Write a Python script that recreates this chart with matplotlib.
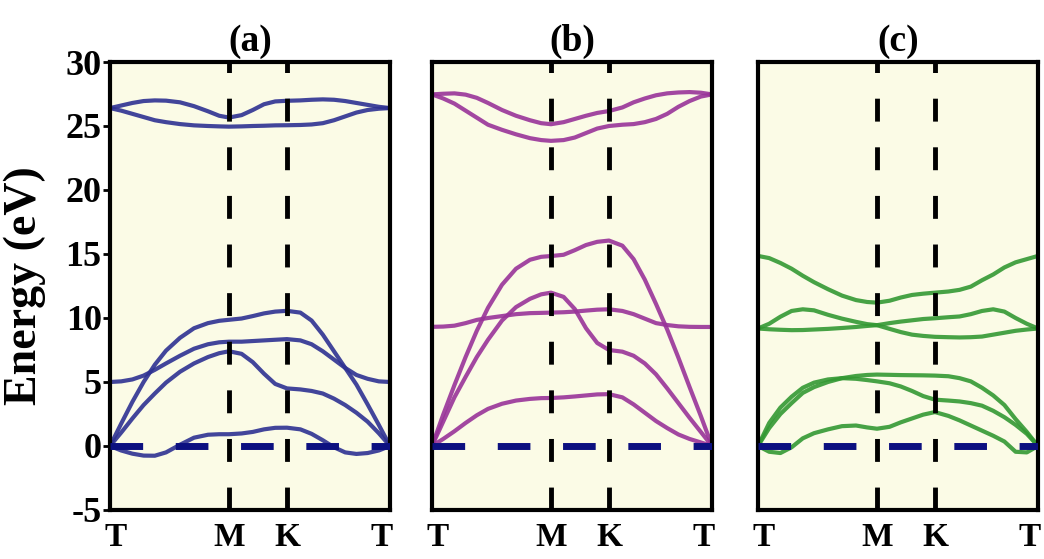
import numpy as np
import matplotlib.pyplot as plt

plt.rcParams['font.family'] = ['Liberation Serif', 'DejaVu Serif']
plt.rcParams['font.weight'] = 'bold'
plt.rcParams['axes.titleweight'] = 'bold'
plt.rcParams['axes.labelweight'] = 'bold'
plt.rcParams['axes.unicode_minus'] = False
plt.rcParams['lines.scale_dashes'] = False

# positions of the high-symmetry points along the path
k_M, k_K = 0.425, 0.632
k = [0, 0.04, 0.08, 0.12, 0.16, 0.2, 0.25, 0.3, 0.35, 0.39, k_M, 0.47, 0.51,
     0.55, 0.59, k_K, 0.68, 0.72, 0.76, 0.8, 0.84, 0.88, 0.92, 0.96, 1.0]
path_ticks = [0.02, k_M, k_K, 0.97]
path_labels = ['T', 'M', 'K', 'T']

# (a) dispersion branches
a_top1 = [26.4, 26.6, 26.8, 26.95, 27.0, 26.98, 26.85, 26.55, 26.15, 25.8, 25.66, 25.85, 26.25,
          26.7, 26.92, 26.97, 27.0, 27.05, 27.08, 27.05, 26.95, 26.8, 26.65, 26.5, 26.4]
a_top2 = [26.4, 26.2, 25.95, 25.7, 25.45, 25.3, 25.15, 25.05, 25.0, 24.97, 24.95, 24.97, 25.0,
          25.02, 25.05, 25.06, 25.08, 25.12, 25.22, 25.45, 25.75, 26.05, 26.25, 26.35, 26.4]
a_b1 = [0, 1.75, 3.45, 5.0, 6.35, 7.45, 8.45, 9.2, 9.6, 9.78, 9.86, 9.96, 10.15,
        10.36, 10.5, 10.56, 10.42, 9.8, 8.7, 7.4, 6.1, 4.8, 3.25, 1.65, 0]
a_b2 = [5.0, 5.05, 5.2, 5.5, 5.95, 6.45, 7.05, 7.6, 7.95, 8.1, 8.15, 8.15, 8.2,
        8.25, 8.3, 8.35, 8.25, 7.95, 7.4, 6.75, 6.1, 5.55, 5.25, 5.05, 5.0]
a_b3 = [0, 1.05, 2.15, 3.2, 4.1, 4.95, 5.8, 6.45, 6.95, 7.25, 7.4, 7.2, 6.55,
        5.65, 4.85, 4.5, 4.42, 4.3, 4.1, 3.7, 3.2, 2.6, 1.9, 1.0, 0]
a_b4 = [0, -0.35, -0.6, -0.75, -0.76, -0.5, 0.1, 0.65, 0.88, 0.92, 0.92, 0.98, 1.1,
        1.3, 1.42, 1.43, 1.3, 0.95, 0.45, -0.1, -0.5, -0.62, -0.55, -0.35, 0]

# (b) dispersion branches
b_top1 = [27.47, 27.52, 27.55, 27.45, 27.2, 26.8, 26.25, 25.8, 25.45, 25.22, 25.14, 25.3, 25.55,
          25.8, 26.02, 26.17, 26.45, 26.85, 27.15, 27.4, 27.55, 27.62, 27.65, 27.6, 27.47]
b_top2 = [27.47, 27.15, 26.75, 26.2, 25.65, 25.1, 24.7, 24.35, 24.05, 23.9, 23.84, 23.9, 24.1,
          24.45, 24.8, 25.0, 25.1, 25.15, 25.3, 25.55, 25.95, 26.5, 26.95, 27.3, 27.47]
b_b1 = [0, 2.45, 4.75, 6.95, 9.0, 10.8, 12.6, 13.85, 14.55, 14.78, 14.84, 14.94, 15.3,
        15.7, 15.95, 16.05, 15.65, 14.6, 13.0, 11.1, 9.1, 6.9, 4.6, 2.35, 0]
b_b2 = [0, 1.9, 3.8, 5.4, 6.95, 8.3, 9.8, 10.85, 11.5, 11.85, 11.98, 11.65, 10.7,
        9.2, 8.05, 7.5, 7.37, 7.05, 6.45, 5.6, 4.5, 3.35, 2.2, 1.1, 0]
b_b3 = [9.31, 9.33, 9.4, 9.6, 9.85, 10.0, 10.15, 10.3, 10.38, 10.4, 10.42, 10.45, 10.5,
        10.58, 10.65, 10.68, 10.55, 10.3, 9.95, 9.6, 9.45, 9.35, 9.31, 9.3, 9.3]
b_b4 = [0, 0.55, 1.15, 1.8, 2.4, 2.9, 3.3, 3.55, 3.68, 3.74, 3.75, 3.8, 3.87,
        3.95, 4.03, 4.05, 3.8, 3.25, 2.6, 1.95, 1.4, 0.9, 0.55, 0.28, 0]

# (c) dispersion branches
c_b1 = [14.85, 14.68, 14.3, 13.85, 13.3, 12.8, 12.25, 11.75, 11.4, 11.25, 11.2, 11.35, 11.6,
        11.8, 11.9, 11.98, 12.07, 12.2, 12.45, 12.95, 13.4, 13.95, 14.35, 14.6, 14.85]
c_b2 = [9.18, 9.55, 10.1, 10.55, 10.68, 10.6, 10.25, 9.95, 9.7, 9.52, 9.44, 9.15, 8.9,
        8.7, 8.6, 8.53, 8.5, 8.48, 8.5, 8.55, 8.7, 8.85, 9.0, 9.1, 9.18]
c_b3 = [9.18, 9.12, 9.08, 9.05, 9.06, 9.1, 9.15, 9.22, 9.3, 9.38, 9.44, 9.6, 9.72,
        9.82, 9.92, 9.98, 10.06, 10.12, 10.3, 10.55, 10.68, 10.5, 10.0, 9.55, 9.18]
c_b4 = [0, 1.4, 2.5, 3.35, 4.15, 4.6, 5.0, 5.3, 5.47, 5.55, 5.58, 5.56, 5.54,
        5.53, 5.52, 5.5, 5.45, 5.3, 5.05, 4.55, 3.95, 3.2, 2.1, 1.1, 0]
c_b5 = [0, 1.8, 3.0, 3.85, 4.55, 4.95, 5.2, 5.3, 5.25, 5.15, 5.05, 4.9, 4.65,
        4.3, 3.9, 3.62, 3.55, 3.48, 3.35, 3.15, 2.75, 2.25, 1.65, 0.95, 0]
c_b6 = [0, -0.45, -0.55, -0.1, 0.6, 1.0, 1.3, 1.55, 1.6, 1.45, 1.35, 1.5, 1.85,
        2.15, 2.45, 2.65, 2.35, 2.0, 1.6, 1.2, 0.8, 0.35, -0.45, -0.5, 0]

panels = [
    ('(a)', '#2e3192', [a_top1, a_top2, a_b1, a_b2, a_b3, a_b4]),
    ('(b)', '#993399', [b_top1, b_top2, b_b1, b_b2, b_b3, b_b4]),
    ('(c)', '#339933', [c_b1, c_b2, c_b3, c_b4, c_b5, c_b6]),
]

fig = plt.figure(figsize=(10.44, 5.59), dpi=100)
lefts = [110, 432, 758]
for i, (title, color, bands) in enumerate(panels):
    ax = fig.add_axes([lefts[i] / 1044, 1 - 510 / 559, 280 / 1044, 448 / 559])
    ax.set_facecolor('#fbfbe6')
    for band in bands:
        ax.plot(k, band, color=color, lw=3, alpha=0.9, solid_joinstyle='round',
                solid_capstyle='round', zorder=2)
    # M and K markers
    for kk in (k_M, k_K):
        ax.axvline(kk, color='black', lw=3.5, dashes=(16.5, 18.5), zorder=3)
    # Fermi level
    ax.axhline(0, color='#0c1080', lw=5, dashes=(23.5, 23.5), zorder=3)

    ax.set_xlim(0, 1)
    ax.set_ylim(-5, 30)
    ax.set_xticks(path_ticks)
    ax.set_xticklabels(path_labels, fontsize=24)
    ax.tick_params(axis='x', length=0, pad=9)
    ax.set_yticks(np.arange(-5, 31, 5))
    if i == 0:
        ax.tick_params(axis='y', direction='out', length=5, width=2, labelsize=26, pad=1)
        ax.set_ylabel('Energy (eV)', fontsize=33, fontweight='bold')
        ax.yaxis.set_label_coords(-0.23, 0.5)
    else:
        ax.tick_params(axis='y', length=0, labelleft=False)
    for sp in ax.spines.values():
        sp.set_linewidth(3)
    ax.set_title(title, fontsize=27, fontweight='bold', pad=8)

fig.savefig('out.png', dpi=100)
